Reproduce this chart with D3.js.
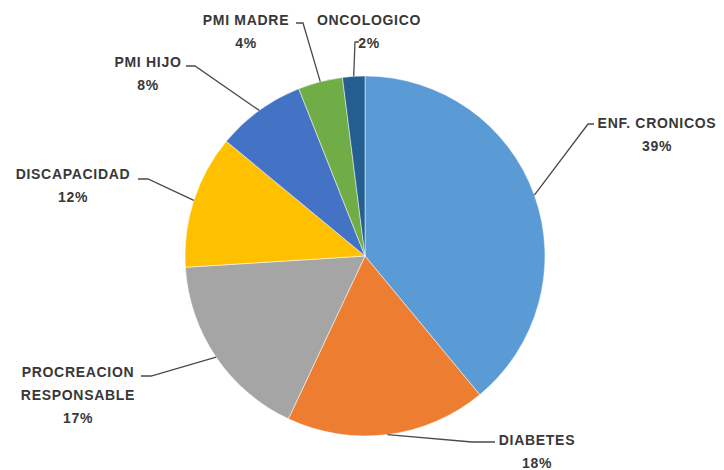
<!DOCTYPE html>
<html>
<head>
<meta charset="utf-8">
<script src="https://cdn.jsdelivr.net/npm/d3@7"></script>
<style>
  html, body { margin: 0; padding: 0; background: #fff; }
  svg { display: block; }
</style>
</head>
<body>
<svg id="chart" width="724" height="470"></svg>
<script>
// ---- data ----
const categories = ["ENF. CRONICOS", "DIABETES", "PROCREACION RESPONSABLE", "DISCAPACIDAD", "PMI HIJO", "PMI MADRE", "ONCOLOGICO"];
const values = [39, 18, 17, 12, 8, 4, 2];
const percentLabels = ["39%", "18%", "17%", "12%", "8%", "4%", "2%"];
const labelLines = [["ENF. CRONICOS"], ["DIABETES"], ["PROCREACION", "RESPONSABLE"], ["DISCAPACIDAD"], ["PMI HIJO"], ["PMI MADRE"], ["ONCOLOGICO"]];
const colors = ["#5B9BD5", "#ED7D31", "#A5A5A5", "#FFC000", "#4472C4", "#70AD47", "#255E91"];

// ---- layout (positions of label blocks and leader elbows) ----
const labelLayout = [
  { x: 657, y: 123, end: [594, 124], elbow: [588, 124] },
  { x: 537, y: 440, end: [495, 442], elbow: [472, 442] },
  { x: 78,  y: 372, end: [141, 376], elbow: [151, 376] },
  { x: 73,  y: 174, end: [138, 179], elbow: [148, 179] },
  { x: 148, y: 62,  end: [186, 66],  elbow: [195, 66] },
  { x: 246, y: 20,  end: [296, 23],  elbow: [303, 23] },
  { x: 369, y: 20,  end: [359, 42],  elbow: [355, 42] }
];

const cx = 365, cy = 256, R = 180;
const lineGap = 23;

const svg = d3.select("#chart");
const g = svg.append("g").attr("transform", `translate(${cx},${cy})`);

const color = d3.scaleOrdinal().domain(categories).range(colors);
const pie = d3.pie().sort(null).value(d => d.value).startAngle(0).endAngle(2 * Math.PI);
const arc = d3.arc().innerRadius(0).outerRadius(R);

const data = categories.map((c, i) => ({ name: c, value: values[i], pct: percentLabels[i], lines: labelLines[i], layout: labelLayout[i] }));
const arcs = pie(data);

g.selectAll("path.slice")
  .data(arcs)
  .enter().append("path")
  .attr("class", "slice")
  .attr("d", arc)
  .attr("fill", d => color(d.data.name))
  .attr("stroke", "#ffffff")
  .attr("stroke-width", 0.5);

// leader lines
const edgePoint = d => {
  const a = (d.startAngle + d.endAngle) / 2;
  return [cx + R * Math.sin(a), cy - R * Math.cos(a)];
};

svg.selectAll("path.leader")
  .data(arcs)
  .enter().append("path")
  .attr("class", "leader")
  .attr("d", d => {
    const p = edgePoint(d);
    const L = d.data.layout;
    return d3.line()([p, L.elbow, L.end]);
  })
  .attr("fill", "none")
  .attr("stroke", "#4a4a4a")
  .attr("stroke-width", 1.3);

// labels
const lbl = svg.selectAll("text.lbl")
  .data(arcs)
  .enter().append("text")
  .attr("class", "lbl")
  .attr("text-anchor", "middle")
  .attr("font-family", "'Liberation Sans', Arial, sans-serif")
  .attr("font-weight", "bold")
  .attr("font-size", 14)
  .attr("letter-spacing", 0.7)
  .attr("fill", "#383838");

lbl.each(function(d) {
  const t = d3.select(this);
  const L = d.data.layout;
  const lines = d.data.lines.concat([d.data.pct]);
  lines.forEach((s, k) => {
    t.append("tspan")
      .attr("x", L.x)
      .attr("y", L.y + k * lineGap)
      .attr("dominant-baseline", "central")
      .text(s);
  });
});
</script>
</body>
</html>
